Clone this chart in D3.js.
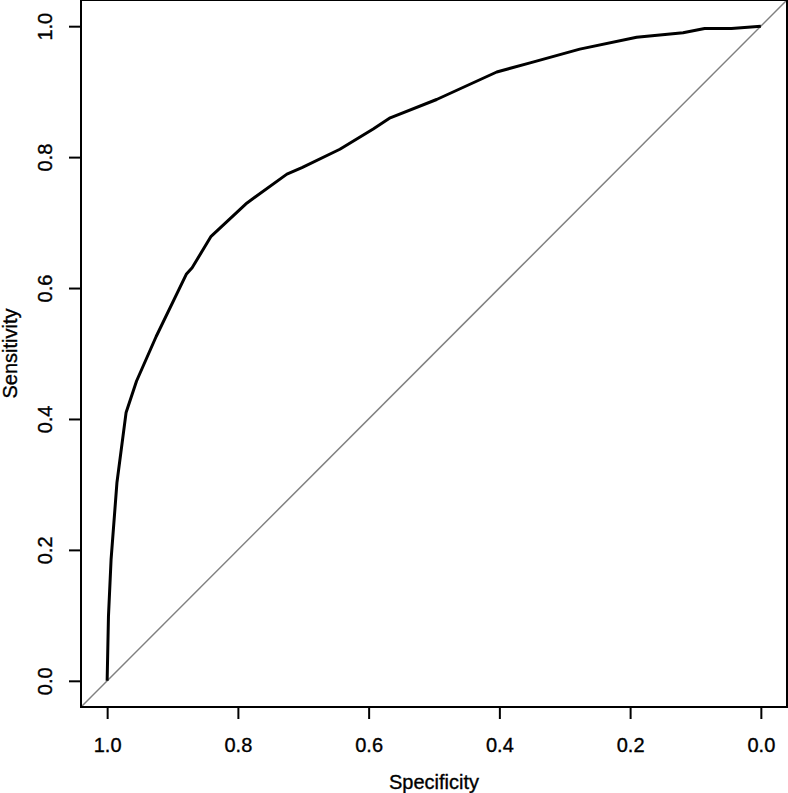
<!DOCTYPE html>
<html>
<head>
<meta charset="utf-8">
<script src="https://cdn.jsdelivr.net/npm/d3@7"></script>
<style>
  body { margin: 0; background: #fff; }
  svg { display: block; font-family: "Liberation Sans", Arial, sans-serif; }
  text { stroke: #000; stroke-width: 0.35px; }
</style>
</head>
<body>
<div id="chart"></div>
<script>
// ROC curve
var specificity = [1.0, 0.998, 0.994, 0.985, 0.971, 0.955, 0.925, 0.879, 0.870, 0.841,
                   0.786, 0.725, 0.702, 0.644, 0.593, 0.567, 0.496, 0.404, 0.353, 0.277,
                   0.190, 0.119, 0.086, 0.045, 0.0];
var sensitivity = [0.0, 0.098, 0.185, 0.303, 0.410, 0.458, 0.526, 0.621, 0.631, 0.679,
                   0.730, 0.774, 0.784, 0.812, 0.843, 0.860, 0.888, 0.930, 0.944, 0.965,
                   0.983, 0.990, 0.9965, 0.9965, 1.0];
var tickValues = [0, 0.2, 0.4, 0.6, 0.8, 1.0];

var width = 788,
    height = 793,
    margin = {top: 0, right: 1, bottom: 86, left: 81};

var svg = d3.select("#chart").append("svg")
    .attr("width", width)
    .attr("height", height);

var innerW = width - margin.left - margin.right,
    innerH = height - margin.top - margin.bottom;

// R style 4% extension on both ends, x reversed
var x = d3.scaleLinear().domain([1.04, -0.04]).range([margin.left, margin.left + innerW]);
var y = d3.scaleLinear().domain([-0.04, 1.04]).range([margin.top + innerH, margin.top]);

svg.append("clipPath").attr("id", "clip")
  .append("rect")
    .attr("x", margin.left).attr("y", margin.top)
    .attr("width", innerW).attr("height", innerH);

// chance line
svg.append("line")
    .attr("clip-path", "url(#clip)")
    .attr("x1", x(1.04)).attr("y1", y(-0.04))
    .attr("x2", x(-0.04)).attr("y2", y(1.04))
    .style("stroke", "#808080")
    .style("stroke-width", 1.5);

var data = specificity.map(function(d, i) { return {sp: d, se: sensitivity[i]}; });

var line = d3.line()
    .x(function(d) { return x(d.sp); })
    .y(function(d) { return y(d.se); });

svg.append("path")
    .datum(data)
    .attr("d", line)
    .style("fill", "none")
    .style("stroke", "#000")
    .style("stroke-width", 3)
    .style("stroke-linejoin", "round");

// box
svg.append("rect")
    .attr("x", margin.left).attr("y", margin.top)
    .attr("width", innerW).attr("height", innerH)
    .style("fill", "none")
    .style("stroke", "#000")
    .style("stroke-width", 2);

var fmt = d3.format(".1f");

var xAxis = svg.append("g")
    .attr("transform", "translate(0," + (margin.top + innerH) + ")")
    .call(d3.axisBottom(x).tickValues(tickValues).tickSize(12).tickPadding(20).tickFormat(fmt));

var yAxis = svg.append("g")
    .attr("transform", "translate(" + margin.left + ",0)")
    .call(d3.axisLeft(y).tickValues(tickValues).tickSize(12).tickPadding(0).tickFormat(fmt));

[xAxis, yAxis].forEach(function(g) {
    g.select(".domain").remove();
    g.selectAll(".tick line").style("stroke", "#000").style("stroke-width", 2);
    g.selectAll(".tick text").style("font-size", "20px").style("fill", "#000");
    g.attr("font-family", null).attr("font-size", null);
});

xAxis.selectAll(".tick text").attr("dy", null).attr("y", 45);

yAxis.selectAll(".tick text")
    .attr("x", null).attr("dy", null)
    .attr("text-anchor", "middle")
    .attr("transform", "translate(-29,0) rotate(-90)");

svg.append("text")
    .attr("x", margin.left + innerW / 2)
    .attr("y", 789)
    .attr("text-anchor", "middle")
    .style("font-size", "20px")
    .text("Specificity");

svg.append("text")
    .attr("transform", "translate(17," + (margin.top + innerH / 2) + ") rotate(-90)")
    .attr("text-anchor", "middle")
    .style("font-size", "20px")
    .text("Sensitivity");
</script>
</body>
</html>
